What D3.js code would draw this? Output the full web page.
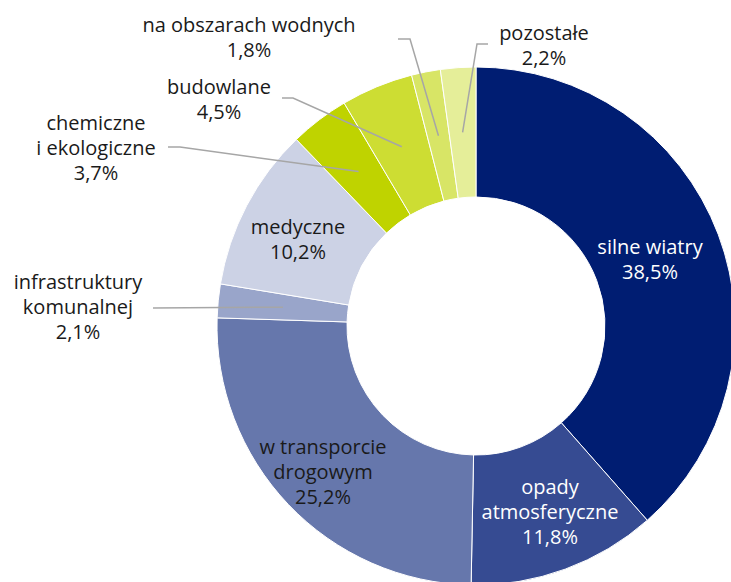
<!DOCTYPE html>
<html>
<head>
<meta charset="utf-8">
<script src="https://cdn.jsdelivr.net/npm/d3@7"></script>
<style>
  html, body { margin: 0; padding: 0; background: #fff; }
  svg { display: block; }
  text { font-family: "Open Sans", "DejaVu Sans", sans-serif; font-size: 20px; }
</style>
</head>
<body>
<svg id="chart" width="731" height="582"></svg>
<script>
// kategorie zdarzeń, zgodnie z ruchem wskazówek zegara od góry
const categories = [
    ["silne wiatry"],
    ["opady", "atmosferyczne"],
    ["w transporcie", "drogowym"],
    ["infrastruktury", "komunalnej"],
    ["medyczne"],
    ["chemiczne", "i ekologiczne"],
    ["budowlane"],
    ["na obszarach wodnych"],
    ["pozostałe"]
];
const values = [38.5, 11.8, 25.2, 2.1, 10.2, 3.7, 4.5, 1.8, 2.2];
const colors = ["#001d72", "#364b92", "#6677ac", "#99a5ca", "#ccd2e5", "#bfd300", "#cddd33", "#d8e566", "#e5ee99"];
const textColors = ["#fff", "#fff", "#1a1a1a", "#1a1a1a", "#1a1a1a", "#1a1a1a", "#1a1a1a", "#1a1a1a", "#1a1a1a"];

// położenie etykiet: środek tekstu, pierwsza linia; outside = etykieta z linią odniesienia
const labelPos = [
    { x: 650, y: 247 },
    { x: 550, y: 487 },
    { x: 323, y: 447 },
    { x: 78, y: 282, lineX: 153, lineY: 308, elbowX: 153 },
    { x: 298, y: 227 },
    { x: 96, y: 123, lineX: 168, lineY: 147, elbowX: 180 },
    { x: 219, y: 87, lineX: 282, lineY: 98, elbowX: 293 },
    { x: 249, y: 25, lineX: 398, lineY: 39, elbowX: 410 },
    { x: 544, y: 33, lineX: 488, lineY: 44, elbowX: 477 }
];

const cx = 476, cy = 326, outerR = 259, innerR = 129, lineH = 25;

const svg = d3.select("#chart");
const g = svg.append("g").attr("transform", "translate(" + cx + "," + cy + ")");

const pie = d3.pie().sort(null).value(d => d);
const arcs = pie(values);
const arc = d3.arc().innerRadius(innerR).outerRadius(outerR);

g.selectAll("path.slice")
    .data(arcs)
    .join("path")
    .attr("class", "slice")
    .attr("d", arc)
    .attr("fill", (d, i) => colors[i])
    .attr("stroke", "#fff")
    .attr("stroke-width", 1);

const fmt = v => d3.format(".1f")(v).replace(".", ",") + "%";

// linie odniesienia
arcs.forEach((d, i) => {
    const p = labelPos[i];
    if (p.lineX === undefined) return;
    const c = arc.centroid(d);
    svg.append("path")
        .attr("d", "M" + p.lineX + "," + p.lineY +
            " L" + p.elbowX + "," + p.lineY +
            " L" + (c[0] + cx) + "," + (c[1] + cy))
        .attr("fill", "none")
        .attr("stroke", "#a6a6a6")
        .attr("stroke-width", 1.5);
});

// etykiety
arcs.forEach((d, i) => {
    const p = labelPos[i];
    const lines = categories[i].concat([fmt(values[i])]);
    const t = svg.append("text")
        .attr("text-anchor", "middle")
        .attr("fill", textColors[i]);
    lines.forEach((s, k) => {
        t.append("tspan")
            .attr("x", p.x)
            .attr("y", p.y + k * lineH)
            .attr("dy", "0.35em")
            .text(s);
    });
});
</script>
</body>
</html>
